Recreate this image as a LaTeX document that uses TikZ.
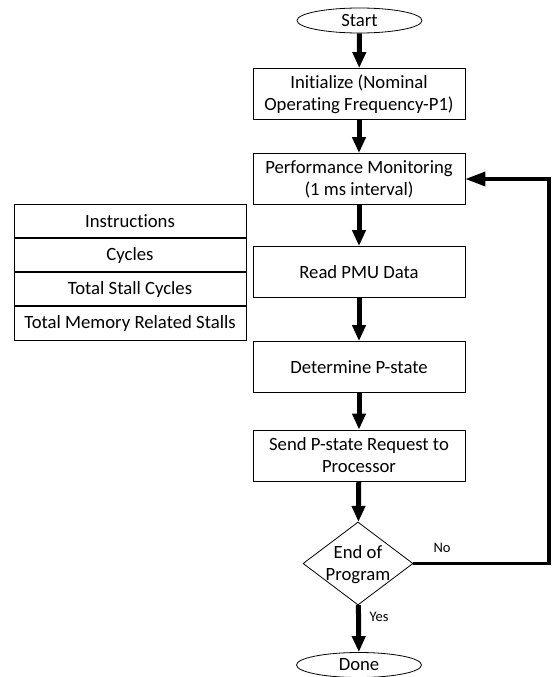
\documentclass[tikz,border=0pt]{standalone}
\usepackage{fontspec}
\setmainfont{Carlito}[Ligatures=NoCommon]
\usetikzlibrary{arrows.meta,shapes.geometric,positioning}

\tikzset{
  txt/.style={font=\fontsize{18.7}{22}\selectfont},
  stepbox/.style={draw, line width=0.8pt, minimum width=212pt, minimum height=51pt,
    align=center, inner xsep=0pt, inner ysep=2pt, txt},
  termbox/.style={draw, ellipse, line width=0.8pt, minimum width=125pt, minimum height=25pt,
    inner sep=0pt, txt},
  cell/.style={draw, line width=0.8pt, minimum width=232pt, minimum height=33.3pt,
    inner sep=0pt, txt},
  flow/.style={line width=5pt, -{Triangle[width=13pt,length=16pt]}},
  loopback/.style={line width=3.5pt, -{Triangle[width=14pt,length=20pt]}},
  tag/.style={font=\fontsize{14.5}{16}\selectfont, inner sep=0pt}
}

\begin{document}
\begin{tikzpicture}[x=1pt,y=-1pt]
  \useasboundingbox (0,0) rectangle (553,677);

  % main column of steps
  \node[termbox] (start) at (359.5,20.5) {Start};
  \node[stepbox] (init) at (359,94) {Initialize (Nominal\\Operating Frequency-P1)};
  \node[stepbox] (perf) at (359,179) {Performance Monitoring\\(1 ms interval)};
  \node[stepbox] (read) at (359,272) {Read PMU Data};
  \node[stepbox] (pstate) at (359,367) {Determine P-state};
  \node[stepbox] (send) at (359,455.5) {Send P-state Request to\\Processor};
  \node[draw, diamond, line width=0.8pt, minimum width=110pt, minimum height=83pt,
    inner sep=0pt] (dec) at (358,563.5) {};
  \node[align=center, inner sep=0pt, txt] (dectext) at (358,565) {End of\\Program};
  \node[termbox] (done) at (359,665) {Done};

  % PMU counters read in each interval
  \node[cell] (c1) at (130,221) {Instructions};
  \node[cell, below=0pt of c1] (c2) {Cycles};
  \node[cell, below=0pt of c2] (c3) {Total Stall Cycles};
  \node[cell, below=0pt of c3] (c4) {Total Memory Related Stalls};

  % forward flow
  \draw[flow] (start) -- (init);
  \draw[flow] (init) -- (perf);
  \draw[flow] (perf) -- (read);
  \draw[flow] (read) -- (pstate);
  \draw[flow] (pstate) -- (send);
  \draw[flow] (send) -- (dec);
  \draw[flow] (dec) -- (done);

  % loop back while the program runs
  \coordinate (turn) at (549,563.5);
  \draw[loopback] (dec.east) -- (turn) |- (perf.east);

  \node[tag] (no) at (442,548) {No};
  \node[tag] (yes) at (379,617) {Yes};
\end{tikzpicture}
\end{document}
